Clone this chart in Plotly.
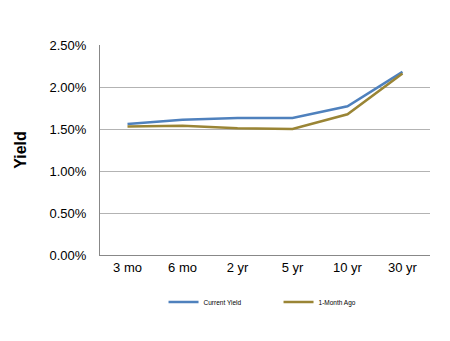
import plotly.graph_objects as go

maturities = ["3 mo", "6 mo", "2 yr", "5 yr", "10 yr", "30 yr"]
current_yield = [1.56, 1.61, 1.63, 1.63, 1.77, 2.18]
month_ago = [1.53, 1.54, 1.51, 1.50, 1.675, 2.16]
y_ticks = [0, 0.5, 1.0, 1.5, 2.0, 2.5]
y_tick_labels = ["0.00%", "0.50%", "1.00%", "1.50%", "2.00%", "2.50%"]

FONT = "Liberation Sans, Arial, sans-serif"

fig = go.Figure()
fig.add_trace(go.Scatter(x=maturities, y=current_yield, mode="lines", name="Current Yield",
                         line=dict(color="#4F81BD", width=2.5)))
fig.add_trace(go.Scatter(x=maturities, y=month_ago, mode="lines", name="1-Month Ago",
                         line=dict(color="#9A8535", width=2.5)))

fig.update_layout(
    width=450, height=341,
    margin=dict(l=100, r=20, t=45, b=86),
    paper_bgcolor="white", plot_bgcolor="white",
    font=dict(family=FONT, color="#000000", size=13),
    showlegend=True,
    legend=dict(orientation="h", x=0.541, xanchor="center", y=-0.224, yanchor="middle",
                font=dict(size=6.5, family=FONT), entrywidth=70, entrywidthmode="pixels",
                itemwidth=30, bgcolor="rgba(0,0,0,0)"),
    xaxis=dict(type="category", showgrid=False, showline=True, linecolor="#888888", linewidth=1,
               ticks="", tickfont=dict(size=13, family=FONT), range=[-0.5, 5.5]),
    yaxis=dict(range=[0, 2.5], tickvals=y_ticks, ticktext=y_tick_labels, showgrid=True,
               gridcolor="#B3B3B3", gridwidth=1, showline=True, linecolor="#888888", linewidth=1,
               zeroline=False, ticks="", ticklabelstandoff=10, tickfont=dict(size=13, family=FONT),
               title=dict(text="<b>Yield</b>", font=dict(size=16, family=FONT), standoff=18)),
)

fig.write_html("out.html")
